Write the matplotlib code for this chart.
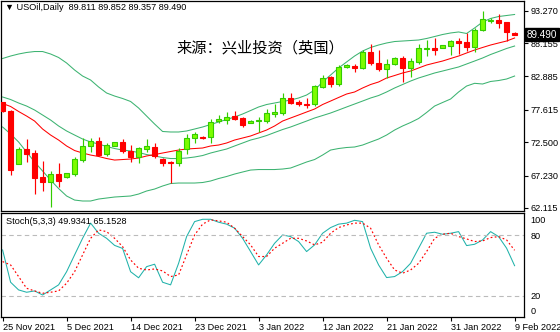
import matplotlib
matplotlib.use("Agg")
import matplotlib.pyplot as plt
import matplotlib.transforms as mtransforms
import numpy as np

# USOil daily, 25 Nov 2021 - 9 Feb 2022 (one entry per bar)
opens = [78.77, 77.47, 69.10, 71.42, 70.74, 66.98, 66.26, 67.47, 66.95, 67.52,
         69.73, 71.90, 72.68, 70.58, 71.94, 72.48, 71.15, 70.21, 71.37, 71.78,
         69.80, 69.42, 69.16, 71.37, 73.11, 73.32, 73.27, 75.80, 76.00, 76.63,
         76.27, 75.58, 75.80, 75.85, 77.00, 77.06, 79.43, 78.89, 78.53, 78.48,
         81.27, 82.75, 81.69, 84.33, 84.58, 84.17, 86.70, 84.96, 84.01, 84.85,
         85.85, 84.17, 85.12, 87.27, 87.43, 87.43, 87.75, 88.48, 88.37, 87.58,
         90.22, 91.64, 91.80, 91.44, 89.811]
highs = [78.90, 77.58, 71.78, 73.00, 71.27, 69.53, 67.95, 69.16, 67.60, 70.16,
         73.11, 73.11, 73.36, 72.32, 72.50, 73.00, 72.05, 71.78, 72.95, 72.32,
         69.99, 69.53, 71.53, 73.74, 74.06, 73.47, 76.11, 76.79, 77.31, 77.42,
         76.52, 76.00, 76.52, 77.69, 78.48, 80.22, 80.32, 79.16, 79.43, 81.53,
         83.11, 83.00, 84.69, 84.80, 84.80, 87.06, 87.96, 87.06, 85.59, 86.00,
         86.16, 85.75, 88.01, 88.64, 88.91, 87.90, 88.60, 89.00, 89.70, 90.49,
         93.22, 92.07, 92.70, 91.50, 89.852]
lows = [77.30, 67.31, 69.05, 69.42, 64.36, 64.83, 62.31, 65.47, 66.79, 67.20,
        69.42, 71.00, 70.32, 70.32, 71.90, 70.74, 69.42, 69.26, 71.00, 69.95,
        68.78, 66.00, 68.66, 70.63, 72.37, 73.00, 72.42, 75.48, 75.37, 76.00,
        74.94, 75.50, 74.16, 75.48, 76.52, 76.79, 78.48, 78.26, 77.85, 78.26,
        81.11, 81.27, 81.42, 84.20, 83.54, 84.01, 84.69, 83.74, 82.69, 84.69,
        81.96, 82.84, 84.85, 86.16, 86.27, 87.40, 86.27, 86.38, 86.90, 86.79,
        90.06, 91.28, 90.59, 88.48, 89.357]
closes = [77.35, 68.10, 71.42, 70.63, 66.89, 66.26, 67.47, 66.41, 67.58, 69.84,
          71.90, 72.73, 70.47, 72.05, 72.48, 71.15, 70.21, 71.53, 71.90, 70.32,
          69.16, 69.16, 71.15, 73.11, 73.79, 73.16, 75.74, 76.16, 76.52, 76.21,
          75.21, 75.90, 75.96, 77.06, 77.22, 79.43, 78.74, 78.48, 78.42, 81.38,
          82.69, 81.69, 84.33, 84.69, 84.17, 86.70, 84.96, 84.01, 84.80, 85.85,
          84.17, 85.32, 87.33, 87.43, 87.11, 87.85, 88.48, 88.22, 87.58, 90.22,
          91.96, 91.75, 91.38, 89.86, 89.490]

# overlays
band_upper = [85.72, 86.11, 86.43, 86.67, 86.82, 86.82, 86.43, 85.88, 85.01, 83.90,
              82.95, 82.32, 81.22, 80.27, 79.79, 79.40, 78.93, 77.90, 76.63, 75.37,
              74.19, 74.11, 74.11, 74.27, 74.58, 74.90, 75.29, 75.69, 76.08, 76.48,
              76.95, 77.50, 78.06, 78.45, 78.69, 78.93, 79.16, 79.48, 79.95, 80.74,
              82.01, 83.11, 84.22, 85.17, 86.11, 86.90, 87.46, 87.85, 88.17, 88.40,
              88.48, 88.56, 88.64, 88.88, 89.19, 89.51, 89.75, 89.91, 89.67, 90.54,
              91.48, 92.04, 92.35, 92.51, 92.67]
band_mid = [79.64, 79.24, 78.69, 78.21, 77.58, 76.79, 76.00, 75.06, 74.27, 73.63,
            73.00, 72.53, 72.21, 71.82, 71.50, 71.26, 71.11, 70.87, 70.55, 70.32,
            70.08, 69.92, 69.92, 70.00, 70.16, 70.39, 70.79, 71.11, 71.42, 71.90,
            72.37, 72.84, 73.16, 73.55, 74.03, 74.50, 74.90, 75.37, 75.84, 76.32,
            76.71, 77.11, 77.58, 78.06, 78.53, 79.00, 79.48, 79.87, 80.43, 81.06,
            81.61, 82.16, 82.64, 83.03, 83.43, 83.74, 84.06, 84.38, 84.85, 85.32,
            85.80, 86.35, 86.82, 87.30, 87.69]
band_lower = [74.90, 73.79, 72.53, 70.95, 69.37, 67.95, 66.52, 65.18, 64.00, 63.36,
              63.21, 63.21, 63.52, 63.68, 63.84, 63.92, 64.00, 64.31, 64.79, 65.10,
              65.58, 65.97, 66.05, 66.05, 66.05, 66.13, 66.37, 66.76, 67.08, 67.47,
              67.79, 68.10, 68.18, 68.18, 68.18, 68.26, 68.42, 68.89, 69.37, 69.76,
              70.47, 71.26, 71.50, 71.66, 71.74, 72.05, 72.53, 73.00, 73.63, 74.42,
              75.06, 75.61, 76.24, 77.19, 78.21, 78.77, 79.32, 80.43, 81.37, 81.80,
              81.69, 82.09, 82.24, 82.48, 82.95]
ma_red = [78.61, 78.14, 77.35, 76.63, 75.84, 74.58, 73.63, 72.84, 71.90, 71.18,
          70.79, 70.47, 70.24, 69.92, 69.68, 69.76, 69.84, 70.00, 70.32, 70.55,
          70.79, 71.03, 71.26, 71.42, 71.50, 71.58, 71.90, 72.05, 72.37, 72.84,
          73.16, 73.48, 73.95, 74.42, 75.06, 75.84, 76.32, 76.79, 77.27, 77.74,
          78.45, 79.00, 79.56, 80.11, 80.43, 81.06, 81.61, 82.01, 82.64, 83.03,
          83.43, 83.74, 84.22, 84.69, 85.01, 85.32, 85.72, 86.11, 86.59, 87.06,
          87.46, 87.85, 88.17, 88.48, 88.96]

# Stochastic(5,3,3)
stoch_k = [65.5, 33.6, 26.0, 23.7, 25.0, 21.0, 26.0, 31.0, 44.0, 60.6,
           77.0, 92.0, 82.0, 77.0, 70.0, 67.0, 44.0, 38.0, 49.0, 51.4,
           33.6, 31.0, 52.3, 78.7, 93.5, 95.8, 95.8, 92.9, 91.0, 87.0,
           77.0, 63.9, 50.7, 60.6, 72.1, 80.3, 78.7, 73.8, 63.9, 70.5,
           82.0, 87.6, 91.0, 92.0, 94.8, 93.5, 67.2, 50.7, 38.2, 39.2,
           44.1, 52.3, 67.2, 82.0, 83.0, 81.0, 82.0, 83.6, 69.8, 71.1,
           75.4, 83.6, 78.7, 67.2, 49.9341]
stoch_d = [54.0, 50.7, 39.2, 27.6, 25.0, 22.7, 23.7, 25.0, 32.6, 44.0,
           60.6, 77.0, 85.3, 83.6, 77.0, 68.8, 55.6, 47.4, 45.7, 46.7,
           44.8, 39.2, 40.8, 60.6, 80.3, 91.0, 95.2, 94.2, 92.9, 87.0,
           78.7, 70.5, 59.0, 59.0, 67.2, 72.1, 77.0, 77.0, 74.4, 70.5,
           73.1, 82.0, 87.6, 90.2, 92.0, 92.0, 87.0, 70.5, 57.3, 45.7,
           42.5, 45.7, 52.3, 63.9, 77.0, 81.0, 82.0, 78.7, 76.4, 73.8,
           74.4, 77.7, 78.7, 75.4, 65.1528]

date_labels = ["25 Nov 2021", "5 Dec 2021", "14 Dec 2021", "23 Dec 2021",
               "3 Jan 2022", "12 Jan 2022", "21 Jan 2022", "31 Jan 2022", "9 Feb 2022"]
date_bars = [0, 8, 16, 24, 32, 40, 48, 56, 64]
price_ticks = [93.270, 88.155, 82.885, 77.615, 72.500, 67.230, 62.115]
stoch_tick_labels = ["100", "80", "20", "0"]
stoch_tick_pos = [95.4, 80, 20, 5.2]

UP_FILL = "#7CFC00"
UP_EDGE = "#33CC00"
DOWN = "#FF0000"
BAND = "#3CB371"
FONT = ["Liberation Sans", "DejaVu Sans"]
FS = 6.6
LW = 0.75

W, H = 560, 332
fig = plt.figure(figsize=(W / 100, H / 100), dpi=100)
fig.patch.set_facecolor("white")

ax = fig.add_axes([0.6 / W, 1 - 210.5 / H, 523 / W, 210 / H])
ax2 = fig.add_axes([0.6 / W, 1 - 317 / H, 523 / W, 104.5 / H])

x = np.arange(len(closes))
o = np.array(opens); c = np.array(closes)
h = np.array(highs); l = np.array(lows)
up = c >= o

# wicks
ax.vlines(x[up], l[up], h[up], color=UP_EDGE, linewidth=0.85, zorder=3)
ax.vlines(x[~up], l[~up], h[~up], color=DOWN, linewidth=0.85, zorder=3)

# bodies
body_lo = np.minimum(o, c)
body_h = np.maximum(np.abs(c - o), 0.12)
ax.bar(x[up], body_h[up], bottom=body_lo[up], width=0.62,
       color=UP_FILL, edgecolor=UP_EDGE, linewidth=0.8, zorder=4)
ax.bar(x[~up], body_h[~up], bottom=body_lo[~up], width=0.62,
       color=DOWN, edgecolor=DOWN, linewidth=0.8, zorder=4)

for band in (band_upper, band_mid, band_lower):
    ax.plot(x, band, color=BAND, linewidth=LW, zorder=2)
ax.plot(x, ma_red, color=DOWN, linewidth=LW, zorder=2)

xlim = (-0.25, 65.125)
ax.set_xlim(*xlim)
ax.set_ylim(61.71, 94.88)
ax.set_xticks([])
ax.yaxis.tick_right()
ax.set_yticks(price_ticks)
ax.set_yticklabels(["%.3f" % p for p in price_ticks], fontsize=FS, family=FONT)
ax.tick_params(axis="y", direction="out", length=3, width=0.8, pad=2)

ax.text(4 / 523, 1 - 7.5 / 210, "\u25bc USOil,Daily  89.811 89.852 89.357 89.490",
        transform=ax.transAxes, fontsize=FS, family=FONT, va="center", ha="left")
ax.text(260 / 523, 1 - 47.5 / 210, "来源：兴业投资（英国）", transform=ax.transAxes,
        fontsize=11, family=["Noto Sans CJK SC", "DejaVu Sans"], ha="center", va="center")

# last price marker on the scale
last_tr = mtransforms.blended_transform_factory(ax.transAxes, ax.transData)
ax.text(1.0 + 3 / 523, closes[-1], "%.3f" % closes[-1], transform=last_tr,
        fontsize=FS + 0.5, family=FONT, color="white", ha="left", va="center",
        bbox=dict(boxstyle="square,pad=0.18", fc="black", ec="black"), zorder=10)

# stochastic panel
ax2.plot(x, stoch_k, color="#20B2AA", linewidth=LW)
ax2.plot(x, stoch_d, color=DOWN, linewidth=LW + 0.1, linestyle=(0, (1.5, 2)))
for lvl in (80, 20):
    ax2.axhline(lvl, color="#BBBBBB", linewidth=0.8, linestyle=(0, (4, 3)))
ax2.set_xlim(*xlim)
ax2.set_ylim(-0.76, 102.5)
ax2.yaxis.tick_right()
ax2.set_yticks(stoch_tick_pos)
ax2.set_yticklabels(stoch_tick_labels, fontsize=FS, family=FONT)
ax2.tick_params(axis="y", direction="out", length=0, pad=5)
ax2.set_xticks(date_bars)
ax2.set_xticklabels(date_labels, fontsize=FS, family=FONT)
for lab in ax2.get_xticklabels():
    lab.set_horizontalalignment("left")
ax2.tick_params(axis="x", direction="out", length=3, width=0.8, pad=1.5)
ax2.text(5 / 523, 1 - 9 / 104.5, "Stoch(5,3,3) 49.9341 65.1528", transform=ax2.transAxes,
         fontsize=FS, family=FONT, va="center", ha="left")

for a in (ax, ax2):
    for s in a.spines.values():
        s.set_linewidth(0.9)
        s.set_color("black")

fig.savefig("out.png", dpi=100)
